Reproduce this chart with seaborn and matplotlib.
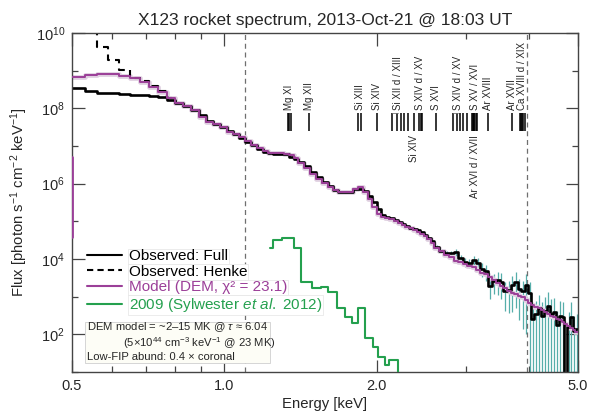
import numpy as np
import pandas as pd
import seaborn as sns
import matplotlib
matplotlib.use("Agg")
import matplotlib.pyplot as plt
import matplotlib.transforms as mtransforms
from matplotlib.lines import Line2D
from matplotlib.patches import Rectangle
from matplotlib.ticker import FixedLocator, FixedFormatter, NullFormatter

sns.set_style("ticks")
plt.rcParams['font.family'] = ['Liberation Sans', 'DejaVu Sans']
plt.rcParams['mathtext.fontset'] = 'custom'
plt.rcParams['mathtext.rm'] = 'Liberation Sans'
plt.rcParams['mathtext.it'] = 'Liberation Sans:italic'
plt.rcParams['mathtext.bf'] = 'Liberation Sans:bold'

# ---------------- data ----------------
energy_edges = [
    0.50, 0.53, 0.56, 0.59, 0.62, 0.65, 0.68, 0.71, 0.74, 0.77, 0.80, 0.83, 0.86, 0.89, 0.92,
    0.95, 0.98, 1.01, 1.04, 1.07, 1.10, 1.13, 1.16, 1.19, 1.22, 1.25, 1.28, 1.31, 1.34, 1.37,
    1.40, 1.44, 1.48, 1.52, 1.56, 1.60, 1.64, 1.68, 1.72, 1.76, 1.80, 1.84, 1.88, 1.92, 1.96,
    2.00, 2.04, 2.08, 2.12, 2.16, 2.20, 2.24, 2.28, 2.32, 2.36, 2.40, 2.44, 2.48, 2.52, 2.56,
    2.60, 2.66, 2.72, 2.78, 2.84, 2.90, 2.96, 3.02, 3.08, 3.14, 3.20, 3.26, 3.32, 3.38, 3.44,
    3.50, 3.56, 3.62, 3.68, 3.74, 3.80, 3.86, 3.92, 3.98, 4.04, 4.10, 4.16, 4.22, 4.28, 4.34,
    4.40, 4.46, 4.52, 4.58, 4.64, 4.70, 4.76, 4.82, 4.88, 4.94, 5.00]

model_log10_flux = [
    8.84, 8.88, 8.90, 8.90, 8.85, 8.80, 8.70, 8.57, 8.44, 8.28, 8.15, 8.06, 7.95, 7.78, 7.65,
    7.58, 7.50, 7.38, 7.31, 7.24, 7.12, 7.03, 6.95, 6.86, 6.82, 6.81, 6.81, 6.79, 6.75, 6.69,
    6.55, 6.42, 6.25, 6.13, 6.02, 5.92, 5.84, 5.79, 5.77, 5.79, 5.87, 5.90, 5.77, 5.58, 5.38,
    5.20, 5.12, 5.09, 5.05, 5.00, 4.96, 4.90, 4.85, 4.81, 4.76, 4.73, 4.67, 4.60, 4.52, 4.43,
    4.30, 4.20, 4.11, 4.04, 3.96, 3.92, 3.87, 3.81, 3.78, 3.70, 3.64, 3.59, 3.51, 3.44, 3.36,
    3.29, 3.22, 3.16, 3.10, 3.06, 3.02, 2.99, 2.91, 2.84, 2.78, 2.73, 2.69, 2.64, 2.59, 2.55,
    2.50, 2.46, 2.42, 2.38, 2.33, 2.27, 2.21, 2.16, 2.11, 2.06]

# short rising segment of the model drawn at the left edge
model_edge_energy = [0.50, 0.50]
model_edge_log10_flux = [4.58, 6.71]

observed_log10_flux = [
    8.55, 8.46, 8.42, 8.41, 8.38, 8.36, 8.35, 8.33, 8.30, 8.22, 8.13, 8.07, 7.96, 7.82, 7.67,
    7.58, 7.51, 7.40, 7.31, 7.22, 7.10, 7.02, 6.93, 6.85, 6.81, 6.80, 6.80, 6.78, 6.72, 6.66,
    6.58, 6.47, 6.31, 6.19, 6.05, 5.93, 5.84, 5.79, 5.77, 5.79, 5.85, 5.87, 5.80, 5.67, 5.52,
    5.32, 5.18, 5.11, 5.08, 5.03, 4.98, 4.93, 4.88, 4.83, 4.80, 4.76, 4.71, 4.64, 4.57, 4.47,
    4.33, 4.22, 4.16, 4.15, 4.18, 4.02, 3.92, 3.90, 3.97, 3.90, 3.74, 3.68, 3.28, 3.42, 3.45,
    3.40, 3.15, 3.18, 3.30, 3.39, 3.20, 3.15, 3.30, 3.10, 2.40, 2.55, 2.70, 2.50, 2.62, 2.75,
    2.55, 2.58, 2.25, 2.50, 2.45, 0.50, 2.20, 2.45, 2.10, 2.15]

# relative 1-sigma errors of the observed spectrum (last 40 bins, 2.6-5.0 keV)
observed_rel_error = [
    0.10, 0.12, 0.15, 0.18, 0.20, 0.22, 0.25, 0.28, 0.30, 0.35, 0.40, 0.45, 0.55, 0.55, 0.60,
    0.65, 0.70, 0.75, 0.80, 0.80, 0.85, 0.90, 0.95, 1.00, 1.10, 1.20, 1.20, 1.30, 1.30, 1.30,
    1.40, 1.40, 1.40, 1.40, 1.50, 1.50, 1.50, 1.50, 1.50, 1.50]

# Henke-corrected observed spectrum (first 12 bins, 0.50-0.86 keV)
henke_log10_flux = [10.8, 10.8, 9.63, 9.28, 9.02, 8.81, 8.72, 8.60, 8.45, 8.28, 8.15, 8.07]

sylwester_edges = [1.23, 1.25, 1.30, 1.37, 1.42, 1.49, 1.55, 1.60, 1.67, 1.73, 1.79, 1.84,
                   1.90, 1.97, 2.01, 2.08, 2.12, 2.20, 2.26]
sylwester_log10_flux = [4.29, 4.50, 4.55, 4.29, 3.39, 3.23, 3.26, 3.12, 2.70, 2.46, 2.30, 2.70,
                        1.90, 1.66, 1.40, 1.19, 1.32, 0.0]

reference_energies = [1.10, 3.97]

line_group_labels = ["Mg XI", "Mg XII", "Si XIII", "Si XIV", "Si XII d / XIII", "Si XIV",
                     "S XIV d / XV", "S XVI", "S XIV d / XV", "S XV / XVI", "Ar XVI d / XVII",
                     "Ar XVIII", "Ar XVII", "Ca XVIII d / XIX"]
line_group_label_energy = [1.343, 1.473, 1.852, 2.006, 2.20, 2.376, 2.437, 2.622, 2.90, 3.13,
                           3.13, 3.32, 3.70, 3.87]
line_group_label_below = [False, False, False, False, False, True, False, False, False, False,
                          True, False, False, False]
line_energies = [1.335, 1.343, 1.352, 1.473, 1.839, 1.865, 2.006, 2.145, 2.194, 2.235, 2.266,
                 2.307, 2.376, 2.430, 2.450, 2.461, 2.622, 2.835, 2.879, 2.922, 2.967, 3.013,
                 3.09, 3.10, 3.11, 3.12, 3.14, 3.16, 3.32, 3.70, 3.84, 3.86, 3.88, 3.90, 3.92]
bracket_ranges = [(2.145, 2.20), (2.835, 2.90)]

# ---------------- figure ----------------
fig = plt.figure(figsize=(5.92, 4.11), dpi=100)
ax = fig.add_axes([72 / 592, 1 - 372 / 411, 506 / 592, 339 / 411])
ax.set_xscale('log')
ax.set_yscale('log')

PURPLE = "#9b3f98"
GREEN = "#24a04e"
CYAN = "#56aeaa"


def step_frame(edges, logvals):
    e = np.asarray(edges, dtype=float)
    v = 10.0 ** np.asarray(logvals, dtype=float)
    v = np.append(v, v[-1])
    return pd.DataFrame({"E": e, "F": v})


edges = np.asarray(energy_edges)
centers = 0.5 * (edges[:-1] + edges[1:])

# error bars (cyan)
nerr = len(observed_rel_error)
f_err = 10.0 ** np.asarray(observed_log10_flux[-nerr:])
r_err = np.asarray(observed_rel_error)
lo = np.where(f_err * (1 - r_err) > 1.0, f_err * (1 - r_err), 1.0)
hi = f_err * (1 + r_err)
ax.vlines(centers[-nerr:], lo, hi, color=CYAN, lw=0.9, zorder=1)

# reference dashed lines
for e in reference_energies:
    ax.axvline(e, color="#6f6f6f", lw=0.9, ls=(0, (4, 3)), zorder=1.5)

mod_df = step_frame(energy_edges, model_log10_flux)
sns.lineplot(data=mod_df, x="E", y="F", drawstyle="steps-post", estimator=None, sort=False,
             color="#dfcfe0", lw=3.4, ax=ax, zorder=1.8)

obs_df = step_frame(energy_edges, observed_log10_flux)
sns.lineplot(data=obs_df, x="E", y="F", drawstyle="steps-post", estimator=None, sort=False,
             color="black", lw=1.9, ax=ax, zorder=2)

nh = len(henke_log10_flux)
henke_df = step_frame(energy_edges[:nh + 1], henke_log10_flux)
sns.lineplot(data=henke_df, x="E", y="F", drawstyle="steps-post", estimator=None, sort=False,
             color="black", lw=1.5, ls=(0, (3.5, 2.5)), ax=ax, zorder=2)

sns.lineplot(data=mod_df, x="E", y="F", drawstyle="steps-post", estimator=None, sort=False,
             color=PURPLE, lw=1.4, ax=ax, zorder=3)
edge_df = pd.DataFrame({"E": model_edge_energy, "F": 10.0 ** np.asarray(model_edge_log10_flux)})
sns.lineplot(data=edge_df, x="E", y="F", estimator=None, sort=False, color=PURPLE, lw=2.0,
             ax=ax, zorder=3)

syl_df = step_frame(sylwester_edges, sylwester_log10_flux)
sns.lineplot(data=syl_df, x="E", y="F", drawstyle="steps-post", estimator=None, sort=False,
             color=GREEN, lw=1.5, ax=ax, zorder=3)

ax.set_xlim(0.5, 5.0)
ax.set_ylim(10, 1e10)

# spectral line markers
trans = mtransforms.blended_transform_factory(ax.transData, ax.transAxes)
y0, y1 = 0.711, 0.764
ax.vlines(line_energies, y0, y1, color="black", lw=1.1, transform=trans, zorder=3)
for a, b in bracket_ranges:
    ax.plot([a, b], [y1, y1], color="#777777", lw=0.6, transform=trans, zorder=3)
for lab, le, below in zip(line_group_labels, line_group_label_energy, line_group_label_below):
    if below:
        ax.text(le, 0.699, lab, rotation=90, ha="center", va="top", fontsize=7,
                transform=trans, zorder=4)
    else:
        ax.text(le, 0.773, lab, rotation=90, ha="center", va="bottom", fontsize=7,
                transform=trans, zorder=4)

# axes styling
for s in ax.spines.values():
    s.set_color("#444444")
    s.set_linewidth(1.0)
ax.xaxis.set_major_locator(FixedLocator([0.5, 1.0, 2.0, 5.0]))
ax.xaxis.set_major_formatter(FixedFormatter(["0.5", "1.0", "2.0", "5.0"]))
ax.xaxis.set_minor_locator(FixedLocator([0.6, 0.7, 0.8, 0.9, 3.0, 4.0]))
ax.xaxis.set_minor_formatter(NullFormatter())
ax.yaxis.set_major_locator(FixedLocator([1e2, 1e4, 1e6, 1e8, 1e10]))
ax.yaxis.set_major_formatter(FixedFormatter([r"10$^{2}$", r"10$^{4}$", r"10$^{6}$",
                                             r"10$^{8}$", r"10$^{10}$"]))
ax.yaxis.set_minor_locator(FixedLocator([1e1, 1e3, 1e5, 1e7, 1e9]))
ax.yaxis.set_minor_formatter(NullFormatter())
ax.tick_params(which="both", direction="in", top=True, right=True, color="#444444",
               labelsize=10.5, width=0.9)
ax.tick_params(which="major", length=9, pad=5)
ax.tick_params(which="minor", length=4.5)

ax.set_xlabel("Energy [keV]", fontsize=10.7, labelpad=3)
ax.set_ylabel(r"Flux [photon s$^{-1}$ cm$^{-2}$ keV$^{-1}$]", fontsize=10.7, labelpad=4)
ax.set_title("X123 rocket spectrum, 2013-Oct-21 @ 18:03 UT", fontsize=12.5, pad=6)

# legend
handles = [Line2D([], [], color="black", lw=1.5),
           Line2D([], [], color="black", lw=1.5, ls=(0, (3, 2))),
           Line2D([], [], color=PURPLE, lw=1.5),
           Line2D([], [], color=GREEN, lw=1.5)]
labels = ["Observed: Full", "Observed: Henke", "Model (DEM, χ² = 23.1)",
          r"2009 (Sylwester $\it{et\ al.}$ 2012)"]
leg = ax.legend(handles, labels, loc="upper left", bbox_to_anchor=(0.03, 0.362),
                frameon=False, fontsize=11, handlelength=2.3, handletextpad=0.45,
                labelspacing=0.1, borderpad=0, borderaxespad=0)
leg.set_zorder(6)
for t, c in zip(leg.get_texts(), ["black", "black", PURPLE, GREEN]):
    t.set_color(c)
    t.set_bbox(dict(facecolor="white", edgecolor="#e4e4e4", lw=0.5, pad=0.5))

# info box
ax.add_patch(Rectangle((0.026, 0.026), 0.366, 0.121, transform=ax.transAxes,
                       facecolor="#fdfdf6", edgecolor="#cfcfcf", lw=0.6, zorder=5))
ax.text(0.030, 0.131, "DEM model = ~2–15 MK @ $\\tau$ ≈ 6.04", fontsize=8.1,
        transform=ax.transAxes, va="center", ha="left", zorder=6)
ax.text(0.101, 0.086, r"(5×10$^{44}$ cm$^{-3}$ keV$^{-1}$ @ 23 MK)", fontsize=8.1,
        transform=ax.transAxes, va="center", ha="left", zorder=6)
ax.text(0.030, 0.045, "Low-FIP abund: 0.4 × coronal", fontsize=8.1,
        transform=ax.transAxes, va="center", ha="left", zorder=6)

fig.savefig("out.png", dpi=100)
